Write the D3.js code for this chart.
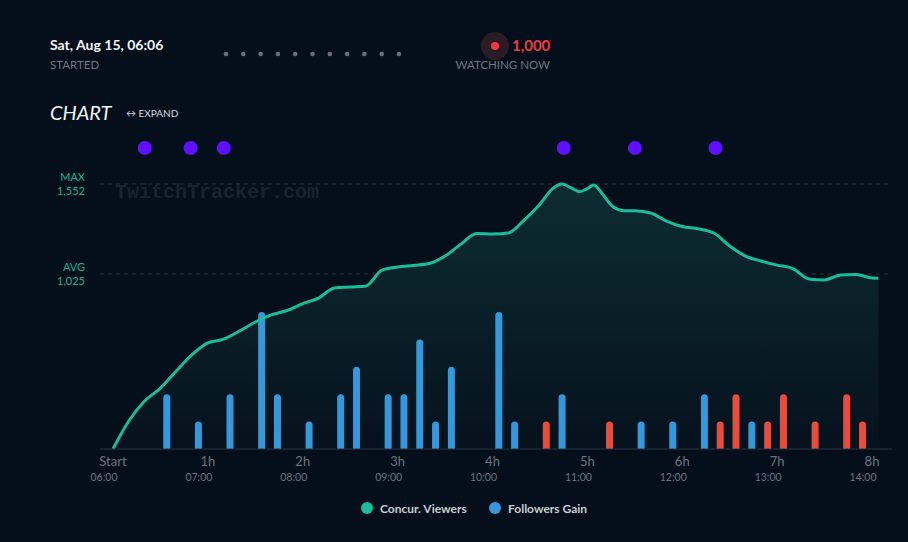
<!DOCTYPE html>
<html>
<head>
<meta charset="utf-8">
<script src="https://cdn.jsdelivr.net/npm/d3@7"></script>
<style>
  body { margin: 0; background: #050f1c; font-family: Lato, "Open Sans", sans-serif; }
</style>
</head>
<body>
<div id="container"></div>
<script>
/* CONSTANTS AND GLOBALS */
const width = 908;
const height = 542;

// concurrent viewers, minutes since start
const viewerMinutes = [0, 10, 20, 30, 40, 50, 60, 70, 80, 90, 100, 110, 120, 130, 140, 150, 160, 170, 180, 190, 200, 210, 220, 230, 240, 250, 260, 270, 278, 284, 290, 295, 300, 304, 310, 316, 323, 330, 340, 350, 360, 370, 380, 390, 400, 410, 420, 430, 440, 450, 460, 470, 480, 484];
const viewerCounts  = [0, 164, 281, 357, 457, 552, 621, 644, 691, 744, 785, 811, 852, 884, 943, 949, 955, 1048, 1066, 1075, 1086, 1130, 1200, 1262, 1259, 1265, 1341, 1434, 1525, 1552, 1528, 1507, 1525, 1546, 1487, 1420, 1396, 1395, 1382, 1335, 1303, 1290, 1265, 1189, 1130, 1101, 1077, 1057, 996, 990, 1019, 1022, 1001, 1000];

// followers gain, minutes since start
const followMinutes = [34, 54, 74, 94, 104, 124, 144, 154, 174, 184, 194, 204, 214, 244, 254, 274, 284, 314, 334, 354, 374, 384, 394, 404, 414, 424, 444, 464, 474];
const followGain    = [2, 1, 2, 5, 2, 1, 2, 3, 2, 2, 4, 1, 3, 5, 1, -1, 2, -1, 1, 1, 2, -1, -2, 1, -1, -2, -1, -2, -1];

// stream events (purple markers)
const eventMinutes = [20, 49, 70, 285, 330, 381];

const hourTicks = [0, 60, 120, 180, 240, 300, 360, 420, 480];
const hourLabels = ["Start", "1h", "2h", "3h", "4h", "5h", "6h", "7h", "8h"];
const clockLabels = ["06:00", "07:00", "08:00", "09:00", "10:00", "11:00", "12:00", "13:00", "14:00"];

const maxViewers = 1552;
const avgViewers = 1025;

const svg = d3.select("#container")
  .append("svg")
  .attr("width", width)
  .attr("height", height)
  .style("background-color", "#050f1c")

/* HEADER */
svg.append("text").attr("x", 50).attr("y", 50).text("Sat, Aug 15, 06:06")
  .attr("fill", "#f2f4f6").attr("font-size", 14).attr("font-weight", "bold")
svg.append("text").attr("x", 50).attr("y", 69).text("STARTED")
  .attr("fill", "#6f7780").attr("font-size", 11.5)

svg.selectAll(".hdot")
  .data(d3.range(11))
  .join("circle")
  .attr("class", "hdot")
  .attr("cx", d => 226 + d * 17.3)
  .attr("cy", 54)
  .attr("r", 2.3)
  .attr("fill", "#6b7078")

svg.append("circle").attr("cx", 495).attr("cy", 46).attr("r", 14).attr("fill", "#2b1b24")
svg.append("circle").attr("cx", 495).attr("cy", 46).attr("r", 4).attr("fill", "#f0383c")
svg.append("text").attr("x", 512).attr("y", 51).text("1,000")
  .attr("fill", "#ee3d3d").attr("font-size", 15).attr("font-weight", "bold")
svg.append("text").attr("x", 550).attr("y", 69).text("WATCHING NOW")
  .attr("text-anchor", "end").attr("fill", "#6f7780").attr("font-size", 11.5)

svg.append("text").attr("x", 50).attr("y", 120).text("CHART")
  .attr("fill", "#f2f4f6").attr("font-size", 20).attr("font-style", "italic")
svg.append("text").attr("x", 126).attr("y", 117).text("\u2194 EXPAND")
  .attr("fill", "#d8dce0").attr("font-size", 10)

/* SCALES */
const xScale = d3.scaleLinear()
  .domain([0, 480])
  .range([113, 872])

const yScale = d3.scaleLinear()
  .domain([0, maxViewers])
  .range([449, 184])

const barScale = d3.scaleLinear()
  .domain([0, 5])
  .range([0, 137])

/* GRADIENT */
const defs = svg.append("defs")
const grad = defs.append("linearGradient").attr("id", "areaGrad")
  .attr("x1", 0).attr("y1", 0).attr("x2", 0).attr("y2", 1)
grad.append("stop").attr("offset", "0%").attr("stop-color", "#0d2c32")
grad.append("stop").attr("offset", "100%").attr("stop-color", "#06121e")

/* WATERMARK */
svg.append("text").attr("x", 115).attr("y", 198).text("TwitchTracker.com")
  .attr("fill", "#19232d").attr("font-size", 20).attr("font-weight", "bold")
  .attr("font-family", "Liberation Mono, DejaVu Sans Mono, monospace")

/* REFERENCE LINES */
const refs = [{label: "MAX", v: maxViewers}, {label: "AVG", v: avgViewers}]
refs.forEach(r => {
  svg.append("line")
    .attr("x1", 100).attr("x2", 890)
    .attr("y1", yScale(r.v)).attr("y2", yScale(r.v))
    .attr("stroke", "#2a333d").attr("stroke-dasharray", "4,4")
  svg.append("text").attr("x", 85).attr("y", yScale(r.v) - 3).text(r.label)
    .attr("text-anchor", "end").attr("fill", "#1fb394").attr("font-size", 11)
  svg.append("text").attr("x", 85).attr("y", yScale(r.v) + 11).text(d3.format(",")(r.v))
    .attr("text-anchor", "end").attr("fill", "#1fb394").attr("font-size", 11)
})

/* AREA + LINE */
const viewers = viewerMinutes.map((m, i) => ({m: m, v: viewerCounts[i]}))

const area = d3.area()
  .x(d => xScale(d.m))
  .y0(yScale(0))
  .y1(d => yScale(d.v))
  .curve(d3.curveMonotoneX)

svg.append("path")
  .datum(viewers)
  .attr("d", area)
  .attr("fill", "url(#areaGrad)")

/* BARS */
const follows = followMinutes.map((m, i) => ({m: m, g: followGain[i]}))
const barW = 7

svg.selectAll(".bar")
  .data(follows)
  .join("path")
  .attr("class", "bar")
  .attr("fill", d => d.g > 0 ? "#3498db" : "#e74c3c")
  .attr("d", d => {
    const x0 = xScale(d.m) - barW / 2
    const h = barScale(Math.abs(d.g))
    const y0 = yScale(0)
    const r = barW / 2
    return `M${x0},${y0} L${x0},${y0 - h + r} A${r},${r} 0 0 1 ${x0 + barW},${y0 - h + r} L${x0 + barW},${y0} Z`
  })

const line = d3.line()
  .x(d => xScale(d.m))
  .y(d => yScale(d.v))
  .curve(d3.curveMonotoneX)

svg.append("path")
  .datum(viewers)
  .attr("d", line)
  .attr("fill", "none")
  .attr("stroke", "#1abc9c")
  .attr("stroke-width", 3)
  .attr("stroke-linejoin", "round")

/* AXIS */
svg.append("line")
  .attr("x1", 100).attr("x2", 892)
  .attr("y1", yScale(0)).attr("y2", yScale(0))
  .attr("stroke", "#2a3440").attr("stroke-width", 1)

svg.selectAll(".hlabel")
  .data(hourTicks)
  .join("text")
  .attr("class", "hlabel")
  .attr("x", d => xScale(d))
  .attr("y", 466)
  .attr("text-anchor", "middle")
  .attr("fill", "#6d757e")
  .attr("font-size", 13)
  .text((d, i) => hourLabels[i])

svg.selectAll(".clabel")
  .data(hourTicks)
  .join("text")
  .attr("class", "clabel")
  .attr("x", d => xScale(d) - 9)
  .attr("y", 481)
  .attr("text-anchor", "middle")
  .attr("fill", "#6d757e")
  .attr("font-size", 10.5)
  .text((d, i) => clockLabels[i])

/* EVENTS */
svg.selectAll(".event")
  .data(eventMinutes)
  .join("circle")
  .attr("class", "event")
  .attr("cx", d => xScale(d))
  .attr("cy", 148)
  .attr("r", 7)
  .attr("fill", "#5f10ff")

/* LEGEND */
const legend = [{name: "Concur. Viewers", color: "#1abc9c", x: 367}, {name: "Followers Gain", color: "#3498db", x: 495}]
legend.forEach(l => {
  svg.append("circle").attr("cx", l.x).attr("cy", 508).attr("r", 6).attr("fill", l.color)
  svg.append("text").attr("x", l.x + 13).attr("y", 512.5).text(l.name)
    .attr("fill", "#c9cdd2").attr("font-size", 12).attr("font-weight", "bold")
})
</script>
</body>
</html>
